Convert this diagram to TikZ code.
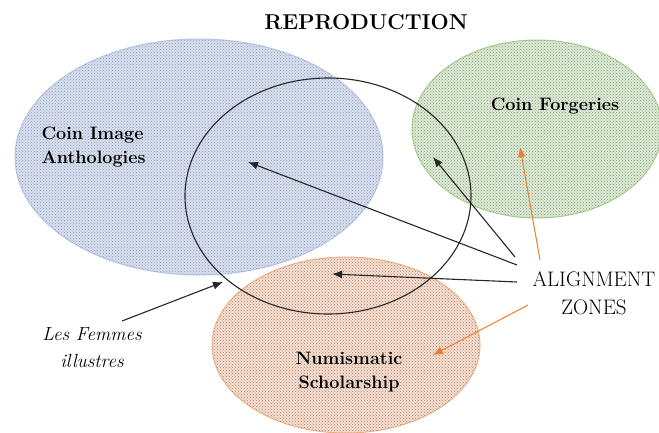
\documentclass[tikz,border=0pt]{standalone}
\usepackage{tikz}
\usetikzlibrary{shapes.geometric,patterns,arrows.meta}
\definecolor{anthfill}{HTML}{D8DFEE}
\definecolor{anthline}{HTML}{B4C7E7}
\definecolor{anthdots}{HTML}{8F9AB8}
\definecolor{forgfill}{HTML}{DDEAD5}
\definecolor{forgline}{HTML}{A9D18E}
\definecolor{forgdots}{HTML}{849A7C}
\definecolor{numifill}{HTML}{F7DECF}
\definecolor{numiline}{HTML}{F4B183}
\definecolor{numidots}{HTML}{A58475}
\definecolor{pointer}{HTML}{ED7D31}
\tikzset{
  zone/.style={ellipse, inner sep=0pt, line width=1pt,
    postaction={pattern=crosshatch dots, pattern color=#1}},
  ring/.style={draw=black!85, line width=1.1pt},
  link/.style={draw=black!85, line width=1.1pt, -{Latex[length=10pt,width=8pt]}},
  hint/.style={draw=pointer, line width=1pt, -{Latex[length=10pt,width=8pt]}},
  lab/.style={font=\fontsize{18}{24}\selectfont\bfseries, align=center},
  every node/.style={text=black}
}
\begin{document}
\begin{tikzpicture}[x=1pt,y=1pt]
  \useasboundingbox (0,0) rectangle (659,432);

  % the three fields
  \node[zone=anthdots, fill=anthfill, draw=anthline, minimum width=368pt, minimum height=236pt] (anth) at (199,275) {};
  \node[zone=forgdots, fill=forgfill, draw=forgline, minimum width=250pt, minimum height=178pt] (forg) at (537,303) {};
  \node[zone=numidots, fill=numifill, draw=numiline, minimum width=268pt, minimum height=176pt] (numi) at (346,87) {};

  % reproduction
  \node[ring, ellipse, minimum width=286pt, minimum height=236pt, inner sep=0pt] (repr) at (328,236) {};

  \node[font=\fontsize{21.5}{26}\selectfont\bfseries] (title) at (366,410) {REPRODUCTION};
  \node[lab, align=left, anchor=west] (anthlab) at (38,285) {Coin Image\\Anthologies};
  \node[lab] (forglab) at (555,326) {Coin Forgeries};
  \node[lab] (numilab) at (349,60) {Numismatic\\Scholarship};
  \node[font=\fontsize{21}{28}\selectfont, align=center] (zones) at (594,139) {ALIGNMENT\\ZONES};
  \node[font=\fontsize{19}{27}\selectfont\itshape, align=center] (femmes) at (92,84) {Les Femmes\\illustres};

  % arrow ends
  \coordinate (zA) at (517,167);
  \coordinate (zB) at (515,175);
  \coordinate (zC) at (517,150);
  \coordinate (zD) at (540,172);
  \coordinate (zE) at (528,127);
  \coordinate (fA) at (122,111);
  \coordinate (inAnth) at (248,270);
  \coordinate (inForg) at (433,275);
  \coordinate (inNumi) at (332,158);
  \coordinate (onRepr) at (223,150);
  \coordinate (tipForg) at (520,285);
  \coordinate (tipNumi) at (433,77);

  \draw[link] (zA) -- (inAnth);
  \draw[link] (zB) -- (inForg);
  \draw[link] (zC) -- (inNumi);
  \draw[link] (fA) -- (onRepr);
  \draw[hint] (zD) -- (tipForg);
  \draw[hint] (zE) -- (tipNumi);
\end{tikzpicture}
\end{document}
